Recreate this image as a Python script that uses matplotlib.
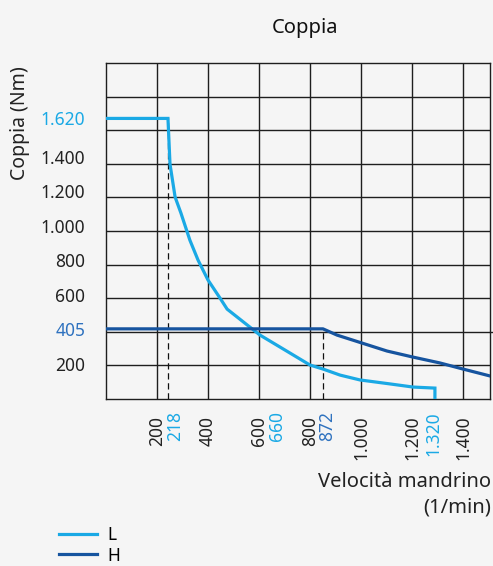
import matplotlib.pyplot as plt

# --- data (x in 1/min, y in Nm) ---
l_speed = [0, 243, 251, 271, 294, 329, 361, 400, 447, 475, 604, 722, 800, 851, 918, 996, 1114, 1204, 1290, 1290]
l_torque = [1620, 1620, 1356, 1166, 1073, 917, 802, 687, 583, 519, 369, 265, 196, 173, 138, 110, 87, 69, 63, 0]

h_speed = [0, 851, 906, 1004, 1102, 1204, 1310, 1400, 1506]
h_torque = [405, 405, 369, 323, 277, 242, 208, 173, 133]

x_ticks = [200, 400, 600, 800, 1000, 1200, 1400]
x_tick_labels = ["200", "400", "600", "800", "1.000", "1.200", "1.400"]
y_ticks = [200, 600, 800, 1000, 1200, 1400]
y_tick_labels = ["200", "600", "800", "1.000", "1.200", "1.400"]

# highlighted values (label text, colour series)
l_marks = ["218", "660", "1.320"]
h_marks = ["872"]
l_max = 1620
h_max = 405

L_COLOR = "#1aa9e5"
H_COLOR = "#16549f"
H_TEXT = "#2f72bf"
BG = "#f5f5f5"
GRID = "#1e1e1e"
FS = 12.5

plt.rcParams['font.family'] = ['Noto Sans', 'DejaVu Sans']

fig = plt.figure(figsize=(4.93, 5.66), dpi=100, facecolor=BG)
ax = fig.add_axes([106 / 493, 1 - 399 / 566, 384 / 493, 336 / 566])
ax.set_facecolor(BG)
ax.set_xlim(0, 1506)
ax.set_ylim(0, 1940)

# grid: verticals on the speed ticks, horizontals split the frame in ten rows
for xv in x_ticks:
    ax.axvline(xv, color=GRID, lw=1.0, zorder=1)
for i in range(1, 10):
    ax.axhline(1940 * i / 10, color=GRID, lw=1.0, zorder=1)
ax.plot([1, 1.01], [0.2, 0.2], transform=ax.transAxes, color=GRID, lw=1.0, clip_on=False)
for s in ax.spines.values():
    s.set_color(GRID)
    s.set_linewidth(1.0)

# dashed markers at the knees
ax.plot([l_speed[1], l_speed[1]], [0, l_max], color="#111111", lw=0.9, ls=(0, (5, 3)), zorder=2)
ax.plot([h_speed[1], h_speed[1]], [0, h_max], color="#111111", lw=0.9, ls=(0, (5, 3)), zorder=2)

ax.plot(l_speed, l_torque, color=L_COLOR, lw=2.3, label="L", zorder=3, solid_joinstyle='miter')
ax.plot(h_speed, h_torque, color=H_COLOR, lw=2.3, label="H", zorder=3)

# ticks
ax.tick_params(length=0)
ax.set_xticks(x_ticks)
ax.set_xticklabels(x_tick_labels, rotation=90, fontsize=FS, color="#222222")
ax.tick_params(axis='x', pad=12)
ax.set_yticks(y_ticks + [l_max, h_max])
ax.set_yticklabels(y_tick_labels + ["1.620", "405"], fontsize=FS, color="#222222")
ax.tick_params(axis='y', pad=15)
ylabels = ax.get_yticklabels()
ylabels[-2].set_color(L_COLOR)
ylabels[-1].set_color(H_TEXT)

# highlighted speed labels sit right beside their neighbours
xaxis_tr = ax.get_xaxis_transform()
blue_pos = [271, 672, 1283]
for txt, xp in zip(l_marks, blue_pos):
    ax.text(xp, -12 / 336, txt, rotation=90, ha='center', va='top', fontsize=FS, color=L_COLOR,
            transform=xaxis_tr, clip_on=False)
ax.text(868, -12 / 336, h_marks[0], rotation=90, ha='center', va='top', fontsize=FS, color=H_TEXT,
        transform=xaxis_tr, clip_on=False)

fig.text(305 / 493, 1 - 28 / 566, "Coppia", ha='center', va='center', fontsize=14.5,
         fontweight='semibold', color="#111111")
fig.text(20 / 493, 1 - 123 / 566, "Coppia (Nm)", rotation=90, ha='center', va='center',
         fontsize=14, color="#222222")
fig.text(491 / 493, 1 - 495 / 566, "Velocità mandrino\n(1/min)", ha='right', va='center',
         multialignment='right', fontsize=14.5, color="#222222", linespacing=1.4)

fig.legend(loc='upper left', bbox_to_anchor=(52 / 493, 1 - 519 / 566), frameon=False,
           fontsize=FS, handlelength=2.2, handletextpad=0.6, labelspacing=0.15,
           borderaxespad=0)

fig.savefig("out.png", dpi=100, facecolor=BG)
